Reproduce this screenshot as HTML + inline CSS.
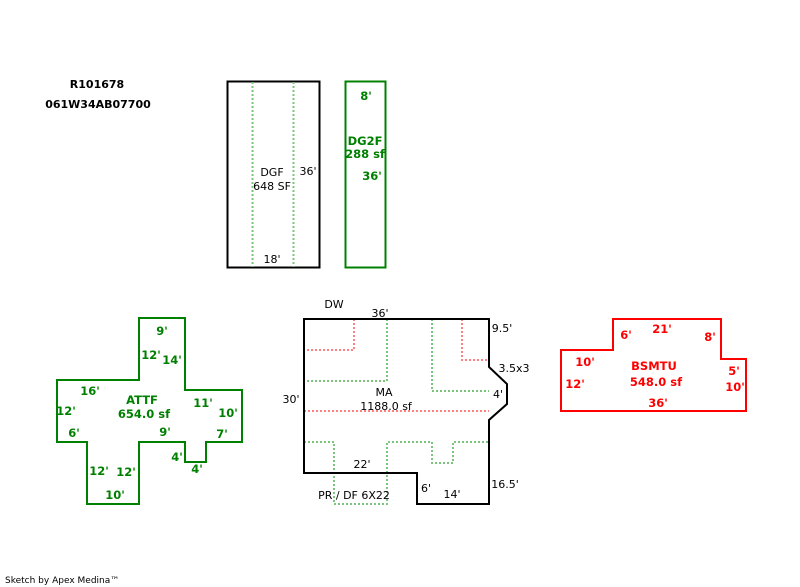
<!DOCTYPE html>
<html><head><meta charset="utf-8"><style>
html,body{margin:0;padding:0;background:#fff;}
svg{display:block;}
text{font-family:"DejaVu Sans","Liberation Sans",sans-serif;font-size:11px;}
.b{font-weight:bold;}
.g{fill:#008000;font-weight:bold;font-size:11.5px;}
.r{fill:#ff0000;font-weight:bold;font-size:11.5px;}
</style></head><body>
<svg width="800" height="587" viewBox="0 0 800 587" xmlns="http://www.w3.org/2000/svg">
<text x="97" y="88" text-anchor="middle" class="b">R101678</text>
<text x="98" y="108" text-anchor="middle" class="b">061W34AB07700</text>

<rect x="227.5" y="81.5" width="92" height="186" fill="none" stroke="#000" stroke-width="2"/>
<line x1="252.5" y1="82" x2="252.5" y2="267" stroke="#7cc47c" stroke-width="2" stroke-dasharray="2,2"/>
<line x1="293.5" y1="82" x2="293.5" y2="267" stroke="#7cc47c" stroke-width="2" stroke-dasharray="2,2"/>
<text x="272" y="176" text-anchor="middle">DGF</text>
<text x="272" y="190" text-anchor="middle">648 SF</text>
<text x="308" y="175" text-anchor="middle">36'</text>
<text x="272" y="263" text-anchor="middle">18'</text>

<rect x="345.5" y="81.5" width="40" height="186" fill="none" stroke="#008000" stroke-width="2"/>
<text x="366" y="100" text-anchor="middle" class="g">8'</text>
<text x="365" y="145" text-anchor="middle" class="g">DG2F</text>
<text x="365" y="158" text-anchor="middle" class="g">288 sf</text>
<text x="372" y="180" text-anchor="middle" class="g">36'</text>

<polygon points="139,318 185,318 185,390 242,390 242,442 206,442 206,462 185,462 185,442 139,442 139,504 87,504 87,442 57,442 57,380 139,380" fill="none" stroke="#008000" stroke-width="2"/>
<text x="162" y="335" text-anchor="middle" class="g">9'</text>
<text x="151" y="359" text-anchor="middle" class="g">12'</text>
<text x="172" y="364" text-anchor="middle" class="g">14'</text>
<text x="90" y="395" text-anchor="middle" class="g">16'</text>
<text x="142" y="404" text-anchor="middle" class="g">ATTF</text>
<text x="144" y="418" text-anchor="middle" class="g">654.0 sf</text>
<text x="66" y="415" text-anchor="middle" class="g">12'</text>
<text x="203" y="407" text-anchor="middle" class="g">11'</text>
<text x="228" y="417" text-anchor="middle" class="g">10'</text>
<text x="74" y="437" text-anchor="middle" class="g">6'</text>
<text x="165" y="436" text-anchor="middle" class="g">9'</text>
<text x="222" y="438" text-anchor="middle" class="g">7'</text>
<text x="177" y="461" text-anchor="middle" class="g">4'</text>
<text x="197" y="473" text-anchor="middle" class="g">4'</text>
<text x="99" y="475" text-anchor="middle" class="g">12'</text>
<text x="126" y="476" text-anchor="middle" class="g">12'</text>
<text x="115" y="499" text-anchor="middle" class="g">10'</text>

<g fill="none" stroke-width="2" stroke-dasharray="2,2">
<polyline points="354,319 354,350 304,350" stroke="#ff8080"/>
<polyline points="462,319 462,360 489,360" stroke="#ff8080"/>
<line x1="304" y1="411" x2="489" y2="411" stroke="#ff8080"/>
<line x1="354" y1="319" x2="462" y2="319" stroke="#ff8080"/>
<polyline points="387,319 387,381 304,381" stroke="#7cc47c"/>
<polyline points="432,319 432,391 489,391" stroke="#7cc47c"/>
<polyline points="304,442 334,442 334,504 387,504 387,442 432,442 432,463 453,463 453,442 489,442" stroke="#7cc47c"/>
</g>
<polygon points="304,319 489,319 489,367 507,384 507,404 489,420 489,504 417,504 417,473 304,473" fill="none" stroke="#000" stroke-width="2"/>
<text x="334" y="308" text-anchor="middle">DW</text>
<text x="380" y="317" text-anchor="middle">36'</text>
<text x="502" y="332" text-anchor="middle">9.5'</text>
<text x="514" y="372" text-anchor="middle">3.5x3</text>
<text x="498" y="398" text-anchor="middle">4'</text>
<text x="291" y="403" text-anchor="middle">30'</text>
<text x="384" y="396" text-anchor="middle">MA</text>
<text x="386" y="410" text-anchor="middle">1188.0 sf</text>
<text x="362" y="468" text-anchor="middle">22'</text>
<text x="505" y="488" text-anchor="middle">16.5'</text>
<text x="426" y="492" text-anchor="middle">6'</text>
<text x="452" y="498" text-anchor="middle">14'</text>
<text x="354" y="499" text-anchor="middle">PR / DF  6X22</text>

<polygon points="561,350 613,350 613,319 721,319 721,359 746,359 746,411 561,411" fill="none" stroke="#ff0000" stroke-width="2"/>
<text x="626" y="339" text-anchor="middle" class="r">6'</text>
<text x="662" y="333" text-anchor="middle" class="r">21'</text>
<text x="710" y="341" text-anchor="middle" class="r">8'</text>
<text x="585" y="366" text-anchor="middle" class="r">10'</text>
<text x="654" y="370" text-anchor="middle" class="r">BSMTU</text>
<text x="656" y="386" text-anchor="middle" class="r">548.0 sf</text>
<text x="575" y="388" text-anchor="middle" class="r">12'</text>
<text x="734" y="375" text-anchor="middle" class="r">5'</text>
<text x="735" y="391" text-anchor="middle" class="r">10'</text>
<text x="658" y="407" text-anchor="middle" class="r">36'</text>

<text x="5" y="583" style="font-size:9px">Sketch by Apex Medina™</text>
</svg>
</body></html>
